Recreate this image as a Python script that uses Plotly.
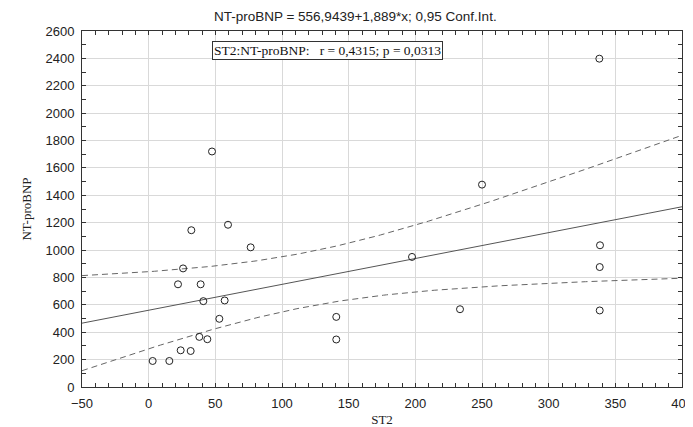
import numpy as np
import plotly.graph_objects as go

# Data
st2 = [3, 15.5, 22, 24, 25.8, 31.5, 32, 38, 39, 41, 44, 47.5, 53, 57, 59.5, 76.5,
       140.7, 140.7, 197.5, 233.5, 250, 338, 338.5, 338.3, 338.3]
ntprobnp = [190, 190, 750, 268, 866, 263, 1145, 366, 750, 627, 349, 1720, 498, 632,
            1185, 1020, 512, 347, 950, 568, 1478, 2398, 1035, 876, 559]

title_text = "NT-proBNP = 556,9439+1,889*x; 0,95 Conf.Int."
note_text = "ST2:NT-proBNP:   r = 0,4315; p = 0,0313"
x_ticks = list(range(-50, 401, 50))
y_ticks = list(range(0, 2601, 200))

# Linear fit and 95% confidence band computed from the data
x = np.array(st2, dtype=float)
y = np.array(ntprobnp, dtype=float)
n = len(x)
b, a = np.polyfit(x, y, 1)
resid = y - (a + b * x)
s = np.sqrt(np.sum(resid ** 2) / (n - 2))
t = 2.068658  # t(0.975, df=23)
xg = np.linspace(-50, 400, 200)
yg = a + b * xg
se = s * np.sqrt(1.0 / n + (xg - x.mean()) ** 2 / np.sum((x - x.mean()) ** 2))
upper = yg + t * se
lower = yg - t * se

fig = go.Figure()
fig.add_trace(go.Scatter(x=xg, y=upper, mode="lines",
                         line=dict(color="#666666", width=1, dash="6px,4px"), showlegend=False))
fig.add_trace(go.Scatter(x=xg, y=lower, mode="lines",
                         line=dict(color="#666666", width=1, dash="6px,4px"), showlegend=False))
fig.add_trace(go.Scatter(x=xg, y=yg, mode="lines",
                         line=dict(color="#555555", width=1), showlegend=False))
fig.add_trace(go.Scatter(x=st2, y=ntprobnp, mode="markers",
                         marker=dict(symbol="circle-open", size=7, color="#222222",
                                     line=dict(width=1, color="#222222")),
                         showlegend=False))

axis_common = dict(
    showline=True, linecolor="#333333", linewidth=1, mirror="ticks",
    ticks="inside", ticklen=4, tickcolor="#333333",
    showgrid=True, gridcolor="#d9d9d9", gridwidth=1, zeroline=False,
    automargin=False,
    tickfont=dict(family="Liberation Sans, Arial", size=13, color="#222222"),
)

fig.update_xaxes(range=[-50, 400], tickvals=x_ticks, ticklabelstandoff=4,
                 minor=dict(dtick=10, ticks="inside", ticklen=4, tickcolor="#333333", showgrid=False),
                 title=dict(text="ST2", font=dict(family="Liberation Serif, Times New Roman", size=13, color="#222222"),
                            standoff=9),
                 **axis_common)
fig.update_yaxes(range=[0, 2600], tickvals=y_ticks, ticklabelstandoff=4,
                 minor=dict(dtick=100, ticks="inside", ticklen=4, tickcolor="#333333", showgrid=False),
                 title=dict(text="NT-proBNP", font=dict(family="Liberation Serif, Times New Roman", size=13, color="#222222"),
                            standoff=10),
                 **axis_common)

fig.add_annotation(x=0.216, y=0.945, xref="paper", yref="paper", xanchor="left", yanchor="middle",
                   text=note_text, showarrow=False,
                   font=dict(family="Liberation Serif, Times New Roman", size=13.5, color="#111111"),
                   bordercolor="#333333", borderwidth=1, borderpad=1, bgcolor="white")

fig.update_layout(
    width=685, height=419,
    margin=dict(l=74, r=11, t=23, b=40),
    paper_bgcolor="white", plot_bgcolor="white",
    title=dict(text=title_text, x=0.507, xanchor="center", y=0.981, yanchor="middle",
               font=dict(family="Liberation Sans, Arial", size=13.5, color="#222222")),
)

fig.write_html("out.html")
